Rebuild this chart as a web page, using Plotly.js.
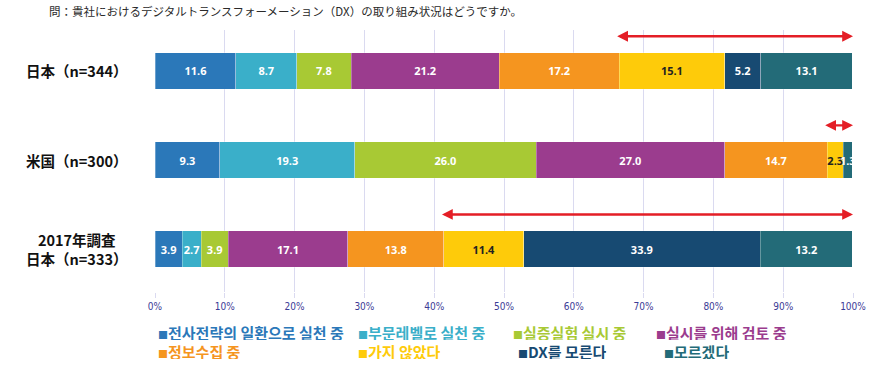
<!DOCTYPE html>
<html>
<head>
<meta charset="utf-8">
<script src="https://cdn.plot.ly/plotly-3.0.1.min.js"></script>
<style>html,body{margin:0;padding:0;background:#fff;}#chart{width:873px;height:367px;}</style>
</head>
<body>
<div id="chart"></div>
<script>
const titleText = '問：貴社におけるデジタルトランスフォーメーション（DX）の取り組み状況はどうですか。';
const groups = ['日本（n=344）', '米国（n=300）', '2017年調査<br>日本（n=333）'];
const seriesNames = ['전사전략의 일환으로 실천 중', '부문레벨로 실천 중', '실증실험 실시 중', '실시를 위해 검토 중',
                     '정보수집 중', '가지 않았다', 'DX를 모른다', '모르겠다'];
const s1 = [11.6, 9.3, 3.9];
const s2 = [8.7, 19.3, 2.7];
const s3 = [7.8, 26.0, 3.9];
const s4 = [21.2, 27.0, 17.1];
const s5 = [17.2, 14.7, 13.8];
const s6 = [15.1, 2.3, 11.4];
const s7 = [5.2, 0.0, 33.9];
const s8 = [13.1, 1.3, 13.2];
const tickVals = [0, 10, 20, 30, 40, 50, 60, 70, 80, 90, 100];
const tickText = ['0%', '10%', '20%', '30%', '40%', '50%', '60%', '70%', '80%', '90%', '100%'];

const series = [s1, s2, s3, s4, s5, s6, s7, s8];
const colors = ['#2b78b9', '#3aafc9', '#a8c934', '#9b3c8e', '#f5951f', '#fecb0a', '#174a72', '#236b78'];
const textColors = ['#fff', '#fff', '#fff', '#fff', '#fff', '#222', '#fff', '#fff'];
const yPos = groups.map((g, i) => i);

const traces = series.map((vals, k) => ({
  type: 'bar', orientation: 'h',
  x: vals, y: yPos, name: seriesNames[k],
  width: 0.41,
  marker: {color: colors[k], line: {color: 'rgba(255,255,255,0.5)', width: 0.6}},
  text: vals.map(v => v > 0 ? v.toFixed(1) : ''),
  textposition: 'inside', insidetextanchor: 'middle', constraintext: 'none', textangle: 0,
  textfont: {family: '"Noto Sans", "Open Sans", sans-serif', size: 11, color: textColors[k], weight: 'bold'},
  hoverinfo: 'skip', showlegend: false, cliponaxis: false
}));

const annotations = [];
// title
annotations.push({xref: 'paper', yref: 'paper', x: (47 - 155) / 698, y: 1.035, text: titleText, showarrow: false,
  xanchor: 'left', yanchor: 'bottom', font: {family: '"Noto Sans CJK JP", sans-serif', size: 11.5, color: '#2a2a2a'}});
// group labels
groups.forEach((g, i) => {
  annotations.push({xref: 'paper', yref: 'y', x: (77 - 155) / 698, y: i, text: '<b>' + g + '</b>', showarrow: false,
    xanchor: 'center', yanchor: 'middle', align: 'center',
    font: {family: '"Noto Sans CJK JP", sans-serif', size: 14.5, color: '#111'}});
});
// red arrows: from start of "가지 않았다" to 100%
groups.forEach((g, i) => {
  const start = s1[i] + s2[i] + s3[i] + s4[i] + s5[i];
  annotations.push({xref: 'x', yref: 'y', axref: 'x', ayref: 'y', x: 100, y: i - 0.39, ax: start - 0.5, ay: i - 0.39,
    text: '', showarrow: true, arrowside: 'end+start', arrowhead: 2, startarrowhead: 2,
    arrowsize: 0.9, startarrowsize: 0.9, arrowwidth: 2.4, arrowcolor: '#e41e26'});
});
// legend as text
const legX = [157, 357, 512, 655, 157, 357, 517, 663];
const legY = [332, 332, 332, 332, 351, 351, 351, 351];
seriesNames.forEach((n, k) => {
  annotations.push({xref: 'paper', yref: 'paper', x: (legX[k] - 155) / 698, y: (292 - legY[k]) / 262,
    text: '<span style="font-size:10px">■</span><b>' + n + '</b>', showarrow: false, xanchor: 'left', yanchor: 'middle',
    height: 16, borderpad: 0,
    font: {family: '"Noto Sans CJK KR", sans-serif', size: 15, color: colors[k]}});
});

const layout = {
  width: 873, height: 367,
  margin: {l: 155, r: 20, t: 30, b: 75},
  paper_bgcolor: '#fff', plot_bgcolor: '#fff',
  barmode: 'stack', bargap: 0,
  showlegend: false,
  xaxis: {range: [0, 100], tickvals: tickVals, ticktext: tickText, showgrid: true, gridcolor: '#dadaf0', gridwidth: 1,
    zeroline: false, showline: false, ticks: 'outside', ticklen: 5, tickcolor: '#dadaf0',
    tickfont: {family: '"Liberation Sans Narrow", "DejaVu Sans Condensed", sans-serif', size: 10, color: '#3b3b96'},
    fixedrange: true},
  yaxis: {range: [2.48, -0.46], showticklabels: false, showgrid: false, zeroline: false, showline: false, fixedrange: true},
  annotations: annotations,
  uniformtext: {mode: false}
};

Plotly.newPlot('chart', traces, layout, {displayModeBar: false, staticPlot: true});
</script>
</body>
</html>
